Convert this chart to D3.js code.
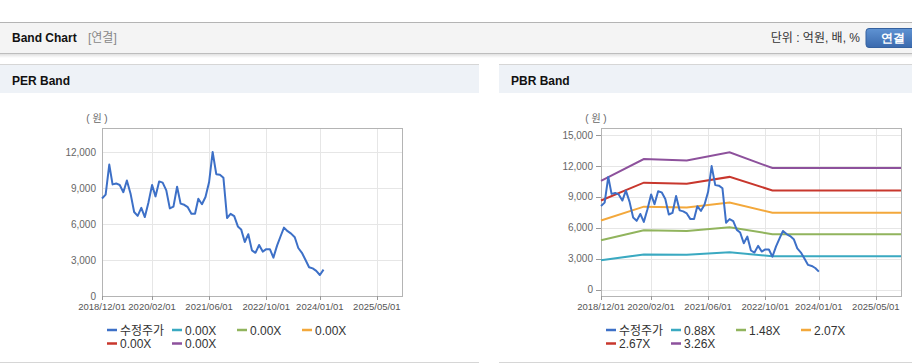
<!DOCTYPE html>
<html lang="ko">
<head>
<meta charset="UTF-8">
<title>Band Chart</title>
<script src="https://d3js.org/d3.v7.min.js"></script>
<style>
  body { margin: 0; background: #fff; font-family: "Liberation Sans", Arial, "Noto Sans CJK KR", sans-serif; }
  svg { display: block; }
  .tick-y { fill: #666; font-size: 10px; }
  .tick-x { fill: #555; font-size: 9.5px; }
  .legend text { fill: #333; font-size: 12px; }
</style>
</head>
<body>
<svg id="chart" width="912" height="364"></svg>
<script>
// x axis tick labels (both charts)
const xTicks = ["2018/12/01", "2020/02/01", "2021/06/01", "2022/10/01", "2024/01/01", "2025/05/01"];
const xDomain = ["2018/12/01", "2025/12/01"];

// monthly adjusted price (수정주가) from 2018/12
const priceStart = "2018/12/01";
const price = [8130, 8450, 10950, 9300, 9380, 9250, 8650, 9620, 8550, 7000,
  6680, 7350, 6580, 7800, 9250, 8300, 9550, 9450, 8800, 7300,
  7450, 9100, 7700, 7600, 7400, 6850, 6850, 8100, 7650, 8250,
  9500, 12000, 10150, 10100, 9850, 6500, 6850, 6650, 5800, 5550,
  4500, 5150, 3800, 3600, 4250, 3700, 3900, 3900, 3200, 4200,
  5000, 5700, 5400, 5200, 4900, 4000, 3600, 3000, 2400, 2300,
  2100, 1750, 2200];

// PBR band lines
const bandDates = ["2018/12/01", "2019/12/01", "2020/12/01", "2021/12/01", "2022/12/01", "2025/12/01"];
const pbrBands = [
  { name: "0.88X", color: "#3aa9c1", values: [2850, 3420, 3390, 3620, 3250, 3250] },
  { name: "1.48X", color: "#91b45d", values: [4800, 5760, 5700, 6060, 5380, 5380] },
  { name: "2.07X", color: "#f3a83b", values: [6710, 8060, 7970, 8470, 7470, 7470] },
  { name: "2.67X", color: "#c8372d", values: [8660, 10390, 10280, 10950, 9640, 9640] },
  { name: "3.26X", color: "#8d519c", values: [10570, 12690, 12550, 13340, 11810, 11810] }
];
const perBands = [
  { name: "0.00X", color: "#3aa9c1" },
  { name: "0.00X", color: "#91b45d" },
  { name: "0.00X", color: "#f3a83b" },
  { name: "0.00X", color: "#c8372d" },
  { name: "0.00X", color: "#8d519c" }
];
const priceColor = "#3d70c7";

const perYTicks = [0, 3000, 6000, 9000, 12000];
const pbrYTicks = [0, 3000, 6000, 9000, 12000, 15000];

const parse = d3.timeParse("%Y/%m/%d");
const fmt = d3.format(",");
const priceDates = d3.timeMonth.range(parse(priceStart), d3.timeMonth.offset(parse(priceStart), price.length));
const priceData = price.map((v, i) => ({ date: priceDates[i], value: v }));

const svg = d3.select("#chart");
const FONT_B = "bold 12px 'Liberation Sans', Arial, sans-serif";

// ---------- top header ----------
const defs = svg.append("defs");
const sh = defs.append("linearGradient").attr("id", "shadow").attr("x1", 0).attr("y1", 0).attr("x2", 0).attr("y2", 1);
sh.append("stop").attr("offset", 0).attr("stop-color", "#000").attr("stop-opacity", 0.12);
sh.append("stop").attr("offset", 1).attr("stop-color", "#000").attr("stop-opacity", 0);
const bg = defs.append("linearGradient").attr("id", "btn").attr("x1", 0).attr("y1", 0).attr("x2", 0).attr("y2", 1);
bg.append("stop").attr("offset", 0).attr("stop-color", "#5f93d3");
bg.append("stop").attr("offset", 1).attr("stop-color", "#3a69ad");

svg.append("rect").attr("x", 0).attr("y", 22).attr("width", 912).attr("height", 31).attr("fill", "#f4f4f4");
svg.append("line").attr("x1", 0).attr("x2", 912).attr("y1", 22.5).attr("y2", 22.5).attr("stroke", "#b4b4b4");
svg.append("line").attr("x1", 0).attr("x2", 912).attr("y1", 53.5).attr("y2", 53.5).attr("stroke", "#bdbdbd");
svg.append("rect").attr("x", 0).attr("y", 54).attr("width", 912).attr("height", 4).attr("fill", "url(#shadow)");

svg.append("text").attr("x", 12).attr("y", 42).style("font", FONT_B).attr("fill", "#111").text("Band Chart");
svg.append("text").attr("x", 88).attr("y", 42).attr("font-size", 12).attr("fill", "#888").text("[연결]");
svg.append("text").attr("x", 860).attr("y", 42).attr("text-anchor", "end").attr("font-size", 12).attr("fill", "#333").text("단위 : 억원, 배, %");
svg.append("rect").attr("x", 866).attr("y", 28.5).attr("width", 52).attr("height", 19).attr("rx", 3).attr("fill", "url(#btn)").attr("stroke", "#35619f");
svg.append("text").attr("x", 893).attr("y", 42).attr("text-anchor", "middle").style("font", FONT_B).attr("fill", "#fff").text("연결");

// ---------- panels ----------
function panel(x0, w, title) {
  svg.append("rect").attr("x", x0).attr("y", 64).attr("width", w).attr("height", 29).attr("fill", "#eef2f7");
  svg.append("line").attr("x1", x0).attr("x2", x0 + w).attr("y1", 64.5).attr("y2", 64.5).attr("stroke", "#d6d6d6");
  svg.append("line").attr("x1", x0).attr("x2", x0 + w).attr("y1", 362.5).attr("y2", 362.5).attr("stroke", "#d6d6d6");
  svg.append("text").attr("x", x0 + 12).attr("y", 85).style("font", FONT_B).attr("fill", "#111").text(title);
}
panel(0, 479, "PER Band");
panel(499, 413, "PBR Band");

// ---------- chart ----------
function chart(opt) {
  const { left, right, top, bottom, yDomain, yTicks, yTickMarks, bands, priceSeries } = opt;
  const x = d3.scaleTime().domain(xDomain.map(parse)).range([left, right]);
  const y = d3.scaleLinear().domain(yDomain).range([bottom, top]);
  const g = svg.append("g");

  // grid
  g.selectAll(".gx").data(xTicks.map(parse)).join("line")
    .attr("x1", d => Math.round(x(d)) + 0.5).attr("x2", d => Math.round(x(d)) + 0.5)
    .attr("y1", top).attr("y2", bottom).attr("stroke", "#e6e6e6");
  g.selectAll(".gy").data(yTicks).join("line")
    .attr("x1", left).attr("x2", right)
    .attr("y1", d => Math.round(y(d)) + 0.5).attr("y2", d => Math.round(y(d)) + 0.5).attr("stroke", "#e6e6e6");

  // frame
  g.append("rect").attr("x", left + 0.5).attr("y", top + 0.5).attr("width", right - left).attr("height", bottom - top)
    .attr("fill", "none").attr("stroke", "#b4b4b4");

  // y labels
  g.selectAll(".ty").data(yTicks).join("text").attr("class", "tick-y")
    .attr("x", yTickMarks ? left - 8 : left - 6).attr("y", d => y(d) + 3.5).attr("text-anchor", "end").text(d => fmt(d));
  if (yTickMarks) {
    g.selectAll(".tm").data(yTicks).join("line")
      .attr("x1", left - 5).attr("x2", left).attr("y1", d => Math.round(y(d)) + 0.5).attr("y2", d => Math.round(y(d)) + 0.5)
      .attr("stroke", "#999");
  }
  g.append("text").attr("class", "tick-y").attr("font-size", 11).attr("x", left - 5).attr("y", top - 6)
    .attr("text-anchor", "middle").text("( 원 )");

  // x ticks + labels
  g.selectAll(".tx").data(xTicks).join("line")
    .attr("x1", d => Math.round(x(parse(d))) + 0.5).attr("x2", d => Math.round(x(parse(d))) + 0.5)
    .attr("y1", bottom).attr("y2", bottom + 4).attr("stroke", "#999");
  g.selectAll(".lx").data(xTicks).join("text").attr("class", "tick-x")
    .attr("x", d => x(parse(d))).attr("y", bottom + 14).attr("text-anchor", "middle").text(d => d);

  const line = d3.line().x(d => x(d.date)).y(d => y(d.value));
  bands.filter(b => b.values).forEach(b => {
    g.append("path").datum(b.values.map((v, i) => ({ date: parse(bandDates[i]), value: v })))
      .attr("d", line).attr("fill", "none").attr("stroke", b.color).attr("stroke-width", 2);
  });
  g.append("path").datum(priceSeries).attr("d", line)
    .attr("fill", "none").attr("stroke", priceColor).attr("stroke-width", 2).attr("stroke-linejoin", "round");

  // legend
  const items = [{ name: "수정주가", color: priceColor }].concat(bands);
  const lg = g.append("g").attr("class", "legend");
  items.forEach((it, i) => {
    const lx = left + 5 + (i % 4) * 65, ly = 330 + Math.floor(i / 4) * 13.5;
    lg.append("line").attr("x1", lx).attr("x2", lx + 10).attr("y1", ly).attr("y2", ly)
      .attr("stroke", it.color).attr("stroke-width", 2.5);
    lg.append("text").attr("x", lx + 13).attr("y", ly + 4.5).text(it.name);
  });
}

chart({ left: 102, right: 402, top: 128, bottom: 296, yDomain: [0, 14000], yTicks: perYTicks,
  yTickMarks: false, bands: perBands, priceSeries: priceData });
chart({ left: 601, right: 901, top: 128, bottom: 296, yDomain: [-620, 15700], yTicks: pbrYTicks,
  yTickMarks: true, bands: pbrBands, priceSeries: priceData.slice(0, -1) });
</script>
</body>
</html>
